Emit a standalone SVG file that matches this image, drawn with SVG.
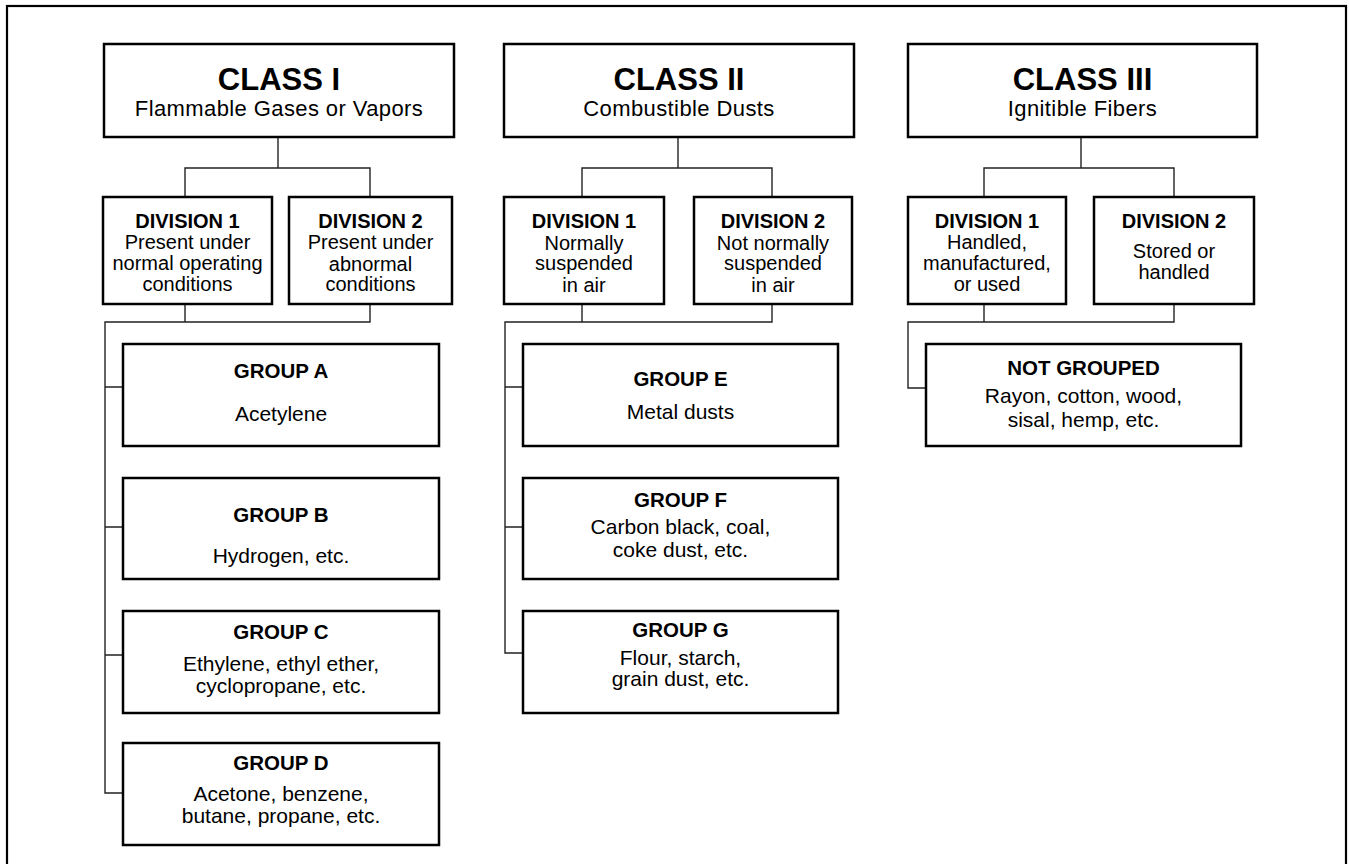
<svg xmlns="http://www.w3.org/2000/svg" width="1349" height="864" viewBox="0 0 1349 864">
<style>
.box{fill:#fff;stroke:#000;stroke-width:2.5}
.frame{fill:none;stroke:#000;stroke-width:2.2}
.conn{fill:none;stroke:#222;stroke-width:1.4}
text{font-family:"Liberation Sans",Arial,Helvetica,sans-serif;fill:#000;text-anchor:middle}
.ct{font-size:31px;font-weight:bold}
.cs{font-size:22px;letter-spacing:0.4px}
.dt{font-size:20px;font-weight:bold}
.dd{font-size:20px}
.gt{font-size:20.5px;font-weight:bold}
.gd{font-size:21px}
</style>
<rect width="1349" height="864" fill="#fff"/>
<rect class="frame" x="7" y="6" width="1339" height="880"/>
<g id="connectors">
<path class="conn" d="M278,137V168M185,197V168H370V197"/>
<path class="conn" d="M678,137V168M582,197V168H772V197"/>
<path class="conn" d="M1081,137V168M984,197V168H1174V197"/>
<path class="conn" d="M185,304V322M370,304V322H105V793H123M105,387H123M105,527H123M105,655H123"/>
<path class="conn" d="M582,304V322M772,304V322H505V653H523M505,387H523M505,527H523"/>
<path class="conn" d="M984,304V322M1174,304V322H908V388H926"/>
</g>
<g id="class1"><rect class="box" x="104" y="44" width="350" height="93"/><text class="ct" x="279" y="90">CLASS I</text><text class="cs" x="279" y="116">Flammable Gases or Vapors</text></g>
<g id="class2"><rect class="box" x="504" y="44" width="350" height="93"/><text class="ct" x="679" y="90">CLASS II</text><text class="cs" x="679" y="116">Combustible Dusts</text></g>
<g id="class3"><rect class="box" x="908" y="44" width="349" height="93"/><text class="ct" x="1082.5" y="90">CLASS III</text><text class="cs" x="1082.5" y="116">Ignitible Fibers</text></g>
<g id="c1div1"><rect class="box" x="103" y="197" width="169" height="107"/><text class="dt" x="187.5" y="228">DIVISION 1</text><text class="dd" x="187.5" y="249">Present under</text><text class="dd" x="187.5" y="270">normal operating</text><text class="dd" x="187.5" y="291">conditions</text></g>
<g id="c1div2"><rect class="box" x="289" y="197" width="163" height="107"/><text class="dt" x="370.5" y="228">DIVISION 2</text><text class="dd" x="370.5" y="249">Present under</text><text class="dd" x="370.5" y="271">abnormal</text><text class="dd" x="370.5" y="291">conditions</text></g>
<g id="c2div1"><rect class="box" x="504" y="197" width="160" height="107"/><text class="dt" x="584" y="228">DIVISION 1</text><text class="dd" x="584" y="250">Normally</text><text class="dd" x="584" y="270">suspended</text><text class="dd" x="584" y="292">in air</text></g>
<g id="c2div2"><rect class="box" x="694" y="197" width="158" height="107"/><text class="dt" x="773" y="228">DIVISION 2</text><text class="dd" x="773" y="250">Not normally</text><text class="dd" x="773" y="270">suspended</text><text class="dd" x="773" y="292">in air</text></g>
<g id="c3div1"><rect class="box" x="908" y="197" width="158" height="107"/><text class="dt" x="987" y="228">DIVISION 1</text><text class="dd" x="987" y="249">Handled,</text><text class="dd" x="987" y="270">manufactured,</text><text class="dd" x="987" y="291">or used</text></g>
<g id="c3div2"><rect class="box" x="1094" y="197" width="160" height="107"/><text class="dt" x="1174" y="228">DIVISION 2</text><text class="dd" x="1174" y="258">Stored or</text><text class="dd" x="1174" y="279">handled</text></g>
<g id="groupA"><rect class="box" x="123" y="344" width="316" height="102"/><text class="gt" x="281" y="378">GROUP A</text><text class="gd" x="281" y="421">Acetylene</text></g>
<g id="groupB"><rect class="box" x="123" y="478" width="316" height="101"/><text class="gt" x="281" y="522">GROUP B</text><text class="gd" x="281" y="563">Hydrogen, etc.</text></g>
<g id="groupC"><rect class="box" x="123" y="611" width="316" height="102"/><text class="gt" x="281" y="639">GROUP C</text><text class="gd" x="281" y="671">Ethylene, ethyl ether,</text><text class="gd" x="281" y="693">cyclopropane, etc.</text></g>
<g id="groupD"><rect class="box" x="123" y="743" width="316" height="102"/><text class="gt" x="281" y="770">GROUP D</text><text class="gd" x="281" y="801">Acetone, benzene,</text><text class="gd" x="281" y="823">butane, propane, etc.</text></g>
<g id="groupE"><rect class="box" x="523" y="344" width="315" height="102"/><text class="gt" x="680.5" y="386">GROUP E</text><text class="gd" x="680.5" y="419">Metal dusts</text></g>
<g id="groupF"><rect class="box" x="523" y="478" width="315" height="101"/><text class="gt" x="680.5" y="507">GROUP F</text><text class="gd" x="680.5" y="534">Carbon black, coal,</text><text class="gd" x="680.5" y="557">coke dust, etc.</text></g>
<g id="groupG"><rect class="box" x="523" y="611" width="315" height="102"/><text class="gt" x="680.5" y="637">GROUP G</text><text class="gd" x="680.5" y="665">Flour, starch,</text><text class="gd" x="680.5" y="686">grain dust, etc.</text></g>
<g id="notGrouped"><rect class="box" x="926" y="344" width="315" height="102"/><text class="gt" x="1083.5" y="375">NOT GROUPED</text><text class="gd" x="1083.5" y="403">Rayon, cotton, wood,</text><text class="gd" x="1083.5" y="427">sisal, hemp, etc.</text></g>
</svg>
